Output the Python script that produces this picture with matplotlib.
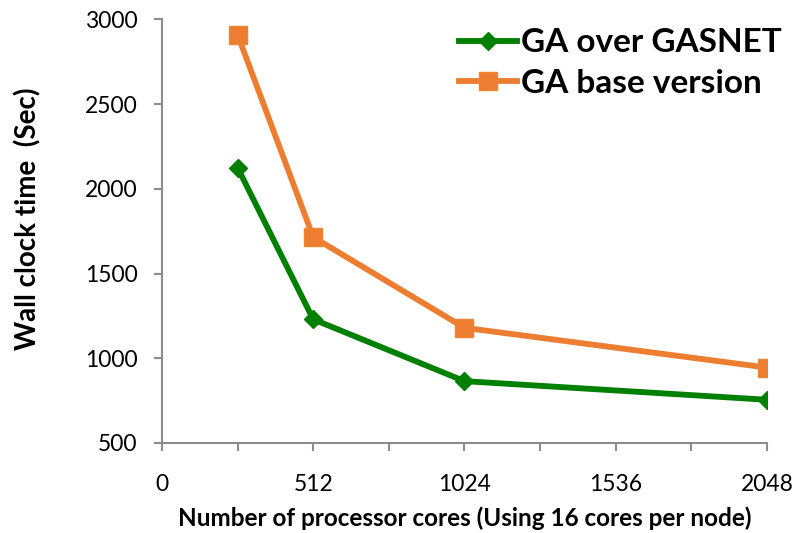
import matplotlib
matplotlib.use("Agg")
import matplotlib.pyplot as plt
from matplotlib.ticker import MultipleLocator

plt.rcParams['font.family'] = ['Lato', 'DejaVu Sans']

cores = [256, 512, 1024, 2048]
ga_gasnet = [2125, 1230, 865, 755]
ga_base = [2910, 1715, 1180, 945]

green = '#008000'
orange = '#ED7D31'
axis_grey = '#8c8c8c'

fig = plt.figure(figsize=(7.92, 5.33), dpi=100)
ax = fig.add_axes([0.2045, 0.1689, 0.7639, 0.7946])

ax.plot(cores, ga_gasnet, color=green, lw=4.2, marker='D', ms=9.5,
        mec=green, mfc=green, label='GA over GASNET', zorder=3)
ax.plot(cores, ga_base, color=orange, lw=4.2, marker='s', ms=12.5,
        mec='#F0852F', mfc=orange, label='GA base version', zorder=3)

ax.set_xlim(0, 2048)
ax.set_ylim(500, 3000)
ax.set_xticks([0, 512, 1024, 1536, 2048])
ax.xaxis.set_minor_locator(MultipleLocator(256))
ax.set_yticks(range(500, 3001, 500))

for side in ('top', 'right'):
    ax.spines[side].set_visible(False)
for side in ('left', 'bottom'):
    ax.spines[side].set_color(axis_grey)
    ax.spines[side].set_linewidth(1.5)

ax.tick_params(axis='both', which='both', color=axis_grey, width=1.5,
               length=5.5, labelsize=16.5, labelcolor='black')
ax.tick_params(axis='y', which='major', pad=12)
ax.tick_params(axis='x', which='major', pad=17)

ax.set_xlabel('Number of processor cores (Using 16 cores per node)',
              fontsize=17.5, fontweight='bold', va='top')
ax.xaxis.set_label_coords(0.5, -0.15)
ax.set_ylabel('Wall clock time  (Sec)', fontsize=20, fontweight='bold')
ax.yaxis.set_label_coords(-0.2, 0.53)

leg = fig.legend(*ax.get_legend_handles_labels(), loc='upper left',
                 bbox_to_anchor=(0.5795, 0.947), frameon=False,
                 prop={'size': 24, 'weight': 'bold'}, handlelength=1.75,
                 handletextpad=0.1, labelspacing=0.34, borderpad=0,
                 borderaxespad=0)

fig.savefig('out.png', dpi=100)
